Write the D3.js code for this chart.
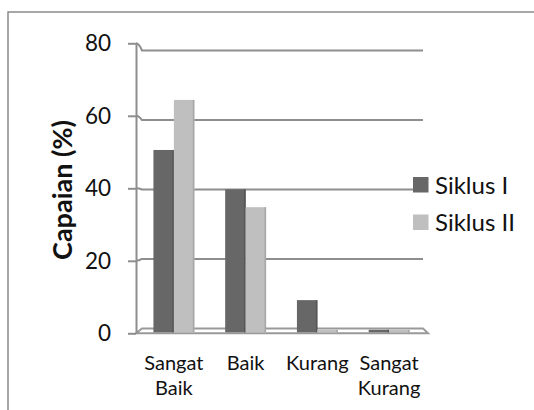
<!DOCTYPE html>
<html>
<head>
<meta charset="utf-8">
<script src="https://cdn.jsdelivr.net/npm/d3@7"></script>
<style>
  body { margin: 0; background: #fff; }
  svg { display: block; font-family: Lato, "Open Sans", sans-serif; }
</style>
</head>
<body>
<svg id="chart" width="534" height="410"></svg>
<script>
// Capaian per kategori, Siklus I vs Siklus II
const categories = [['Sangat', 'Baik'], ['Baik'], ['Kurang'], ['Sangat', 'Kurang']];
const seriesNames = ['Siklus I', 'Siklus II'];
const siklus1 = [51, 40, 9, 0];
const siklus2 = [65, 35, 0, 0];
const yTicks = [0, 20, 40, 60, 80];
const colors = ['#676767', '#bfbfbf'];
const sideColors = ['#555555', '#a6a6a6'];

const svg = d3.select('#chart');
const keys = categories.map(c => c.join(' '));
const series = [siklus1, siklus2];

// chart frame (runs off the right/bottom edge like the source)
svg.append('rect')
  .attr('x', 8).attr('y', 12).attr('width', 540).attr('height', 420)
  .attr('fill', 'none').attr('stroke', '#8a8a8a').attr('stroke-width', 1.5);

// three y scales: front axis, back wall, bars (fake 3d depth)
const yFront = d3.scaleLinear().domain([0, 80]).range([333.3, 43.3]);
const yBack = d3.scaleLinear().domain([0, 80]).range([328.4, 50.6]);
const yBar = d3.scaleLinear().domain([0, 80]).range([332.3, 46.3]);
const x = d3.scaleBand().domain(keys).range([138, 425]).paddingInner(0.43).paddingOuter(0.215);
const xs = d3.scaleBand().domain(seriesNames).range([0, x.bandwidth()]);
const axisX = 136, backX = 142, backRight = 423, frontRight = 428;

// gridlines + connectors from front ticks
svg.append('g').selectAll('path')
  .data(yTicks.filter(d => d > 0))
  .join('path')
  .attr('d', d => `M${axisX},${yFront(d)} Q${backX - 3},${yFront(d)} ${backX},${yBack(d)} H${backRight}`)
  .attr('fill', 'none').attr('stroke', '#8e8e8e').attr('stroke-width', 2);

// floor slab
svg.append('path')
  .attr('d', `M${axisX},${yFront(0)} L${backX},${yBack(0)} H${backRight} L${frontRight},${yFront(0)} Z`)
  .attr('fill', '#fff').attr('stroke', '#999').attr('stroke-width', 2);

// bars
const groups = svg.append('g').selectAll('g')
  .data(keys)
  .join('g')
  .attr('transform', d => `translate(${x(d)},0)`);

groups.each(function(k, i) {
  const g = d3.select(this);
  seriesNames.forEach((s, j) => {
    const v = series[j][i];
    const top = yBar(v);
    const h = Math.max(2.5, yBar(0) - top);
    const y0 = yBar(0) - h;
    g.append('rect')
      .attr('x', xs(s)).attr('y', y0)
      .attr('width', xs.bandwidth()).attr('height', h)
      .attr('fill', colors[j]);
    g.append('rect')
      .attr('x', xs(s) + xs.bandwidth() - 1.5).attr('y', y0)
      .attr('width', 1.5).attr('height', h)
      .attr('fill', sideColors[j]);
  });
});

// y axis
const yAxis = svg.append('g')
  .attr('transform', `translate(${axisX},0)`)
  .call(d3.axisLeft(yFront).tickValues(yTicks).tickSize(8).tickSizeOuter(0).tickPadding(17));
yAxis.select('.domain').attr('stroke', '#8e8e8e').attr('stroke-width', 2);
yAxis.selectAll('.tick line').attr('stroke', '#8e8e8e').attr('stroke-width', 2);
yAxis.selectAll('.tick text')
  .attr('font-family', 'Lato, sans-serif').attr('font-size', 22.5).attr('fill', '#111');

// category labels
const xl = svg.append('g').selectAll('text')
  .data(categories)
  .join('text')
  .attr('x', (d, i) => x(keys[i]) + x.bandwidth() / 2)
  .attr('y', 370)
  .attr('text-anchor', 'middle')
  .attr('font-size', 20).attr('fill', '#111');
xl.selectAll('tspan')
  .data(d => d)
  .join('tspan')
  .attr('x', function() { return d3.select(this.parentNode).attr('x'); })
  .attr('dy', (d, i) => i === 0 ? 0 : 25)
  .text(d => d);

// y title
svg.append('text')
  .attr('transform', 'translate(71.5,190) rotate(-90)')
  .attr('text-anchor', 'middle')
  .attr('font-size', 27).attr('font-weight', 'bold').attr('fill', '#111')
  .text('Capaian (%)');

// legend
const leg = svg.append('g').selectAll('g')
  .data(seriesNames)
  .join('g')
  .attr('transform', (d, i) => `translate(413,${177 + i * 37.5})`);
leg.append('rect').attr('width', 15.5).attr('height', 15.5).attr('fill', (d, i) => colors[i]);
leg.append('text').attr('x', 22).attr('y', 16.5).attr('font-size', 24).attr('fill', '#111').text(d => d);
</script>
</body>
</html>
